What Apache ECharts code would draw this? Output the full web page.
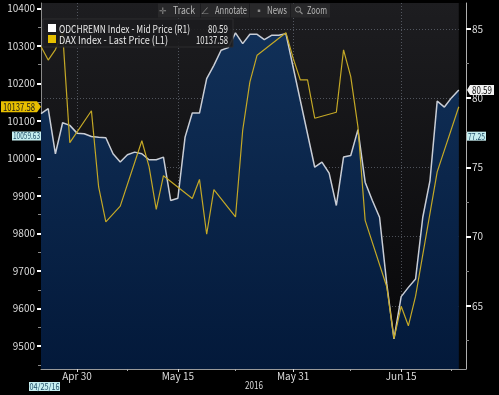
<!DOCTYPE html>
<html><head><meta charset="utf-8">
<script src="https://cdn.jsdelivr.net/npm/echarts@6/dist/echarts.min.js"></script>
<style>html,body{margin:0;padding:0;background:#000;}#c{width:499px;height:395px;}</style>
</head><body><div id="c"></div>
<script>
// ---- data ----
const days = ['Apr 25','Apr 26','Apr 27','Apr 28','Apr 29','Apr 30','May 1','May 2','May 3','May 4','May 5','May 6','May 7','May 8','May 9','May 10','May 11','May 12','May 13','May 14','May 15','May 16','May 17','May 18','May 19','May 20','May 21','May 22','May 23','May 24','May 25','May 26','May 27','May 28','May 29','May 30','May 31','Jun 1','Jun 2','Jun 3','Jun 4','Jun 5','Jun 6','Jun 7','Jun 8','Jun 9','Jun 10','Jun 11','Jun 12','Jun 13','Jun 14','Jun 15','Jun 16','Jun 17','Jun 18','Jun 19','Jun 20','Jun 21','Jun 22','Jun 23'];
const odch = [78.87,79.23,75.98,78.22,78.03,77.47,77.43,77.23,77.18,77.14,75.98,75.38,75.91,76.10,75.98,75.55,75.55,75.74,72.61,72.77,77.18,78.92,78.92,81.40,82.36,83.45,83.64,84.70,83.93,84.60,84.60,84.22,84.53,84.53,84.65,null,null,null,75.01,75.38,74.58,72.25,75.74,75.86,77.72,73.93,72.61,71.40,66.59,62.62,65.67,66.34,66.95,71.40,74.05,79.78,79.35,80.03,80.59,null];
const dax = [10298,10262,10290,10335,10042,null,null,10127,9924,9831,null,9873,null,null,10047,9978,9864,9954,null,null,null,9893,9944,9798,9917,null,null,9844,10075,10204,10275,null,null,null,10335,10267,10209,10209,10107,null,null,10123,10289,10218,10084,9835,null,null,9658,9520,9606,9554,9633,null,null,9964,null,null,10137.58,null];
const tickIdx = [5,19,35,50];
const tickLabels = ['Apr 30','May 15','May 31','Jun 15'];
const minorIdx = [12,27,43,57];
const daxTicks = [9500,9600,9700,9800,9900,10000,10100,10200,10300,10400];
const daxMinor = [9450,9550,9650,9750,9850,9950,10050,10150,10250,10350];
const odTicks = [65,70,75,80,85];
const odMinor = [62.5,67.5,72.5,77.5,82.5];
const daxRange = [9439,10414];
const odRange = [60.45,86.86];
const odLast = 80.59, daxLast = 10137.58;
const crossDax = 10059.63, crossOd = 77.25, crossDate = '04/25/16';
const yearLabel = '2016';
const legendNames = ['ODCHREMN Index - Mid Price (R1)','DAX Index - Last Price (L1)'];
const toolbar = ['Track','Annotate','News','Zoom'];

// ---- chart ----
const FONT = "'Noto Sans CJK SC','Liberation Sans',sans-serif";
const chart = echarts.init(document.getElementById('c'));
const grid = {left:41,right:33,top:3,bottom:26};
const dotted = {color:'rgba(150,160,175,0.45)',type:[1,2],width:1};
const lab = {color:'#dcdcdc',fontSize:10,fontFamily:FONT};
chart.setOption({
  backgroundColor:'#000',
  animation:false,
  grid:Object.assign({show:true,borderWidth:0,backgroundColor:{type:'linear',x:0,y:0,x2:0,y2:1,colorStops:[{offset:0,color:'#1d1d20'},{offset:1,color:'#060608'}]}},grid),
  xAxis:[
    {type:'category',data:days,boundaryGap:false,
     axisLine:{show:true,lineStyle:{color:'#9a9a9a'}},
     axisTick:{show:true,interval:(i)=>tickIdx.includes(i),length:3,lineStyle:{color:'#ddd'}},
     axisLabel:Object.assign({interval:(i)=>tickIdx.includes(i),formatter:(v,i)=>{const k=tickIdx.indexOf(i);return k>=0?tickLabels[k]:'';},margin:2},lab),
     splitLine:{show:true,interval:(i)=>tickIdx.includes(i),lineStyle:dotted}},
    {type:'category',data:days,boundaryGap:false,position:'bottom',
     axisLine:{show:false},
     axisTick:{show:true,interval:(i)=>minorIdx.includes(i),length:2,lineStyle:{color:'#aaa'}},
     axisLabel:{show:false},splitLine:{show:false}}
  ],
  yAxis:[
    {type:'value',min:daxRange[0],max:daxRange[1],position:'left',
     axisLine:{show:true,lineStyle:{color:'#8a8a8a'}},
     axisTick:{show:true,customValues:daxTicks,length:4,lineStyle:{color:'#fff',width:2}},
     axisLabel:Object.assign({customValues:daxTicks,margin:6,formatter:(v)=>String(v)},lab),
     splitLine:{show:false}},
    {type:'value',min:odRange[0],max:odRange[1],position:'right',
     axisLine:{show:true,lineStyle:{color:'#b0b0b0'}},
     axisTick:{show:true,customValues:odTicks,length:5,lineStyle:{color:'#fff',width:2}},
     axisLabel:Object.assign({customValues:odTicks,margin:6,formatter:(v)=>String(v)},lab),
     splitLine:{show:true,lineStyle:dotted}},
    {type:'value',min:daxRange[0],max:daxRange[1],position:'left',
     axisLine:{show:false},axisTick:{show:true,customValues:daxMinor,length:3,lineStyle:{color:'#888'}},
     axisLabel:{show:false},splitLine:{show:false}},
    {type:'value',min:odRange[0],max:odRange[1],position:'right',
     axisLine:{show:false},axisTick:{show:true,customValues:odMinor,length:3,lineStyle:{color:'#888'}},
     axisLabel:{show:false},splitLine:{show:false}}
  ],
  series:[
    {name:legendNames[0],type:'line',xAxisIndex:0,yAxisIndex:1,data:odch,symbol:'none',connectNulls:true,z:2,
     lineStyle:{color:'#c9cdd5',width:1.5},
     areaStyle:{origin:'start',opacity:1,color:{type:'linear',x:0,y:0,x2:0,y2:1,colorStops:[{offset:0,color:'#113058'},{offset:1,color:'#03193a'}]}},
     markArea:{silent:true,itemStyle:{color:'#030303'},data:[[{xAxis:days[58]},{xAxis:days[59]}]]}},
    {name:legendNames[1],type:'line',xAxisIndex:0,yAxisIndex:0,data:dax,symbol:'none',connectNulls:true,z:3,
     lineStyle:{color:'#c4a826',width:1.2}}
  ]
});

const yD = chart.convertToPixel({yAxisIndex:0}, daxLast);
const yO = chart.convertToPixel({yAxisIndex:1}, odLast);
const yCD = chart.convertToPixel({yAxisIndex:0}, crossDax);
const yCO = chart.convertToPixel({yAxisIndex:1}, crossOd);
const W = 499, H = 395;
const xL = grid.left, xR = W - grid.right;
const mctx = document.createElement('canvas').getContext('2d');
// text squeezed horizontally to the width it has in the reference
function txt(x,y,s,fill,size,align,w){
  const font = size+'px '+FONT;
  mctx.font = font;
  const m = mctx.measureText(s).width;
  const sx = w ? Math.min(1.15, w/m) : 1;
  return {type:'text',x:x,y:y,scaleX:sx,silent:true,z:20,style:{text:s,fill:fill,font:font,textAlign:align||'left',textVerticalAlign:'middle'}};
}
const g = [];
// legend box
g.push({type:'rect',shape:{x:43,y:19,width:190,height:28},style:{fill:'rgba(28,28,30,0.9)',stroke:'#2c2c2e'},z:15,silent:true});
g.push({type:'rect',shape:{x:48,y:24,width:8,height:8},style:{fill:'#ffffff'},z:16});
g.push({type:'rect',shape:{x:48,y:35,width:8,height:8},style:{fill:'#e6c000'},z:16});
g.push(txt(59,28.5,legendNames[0],'#e8e8e8',11,'left',131));
g.push(txt(59,39.5,legendNames[1],'#e8e8e8',11,'left',109));
g.push(txt(228,28.5,odLast.toFixed(2),'#e8e8e8',11,'right',20));
g.push(txt(228,39.5,daxLast.toFixed(2),'#e8e8e8',11,'right',32));
// toolbar
const tb = [[158,42,173,22,'\u271B',163],[201,48,215,32,'\u2220',205],[250,40,267,20,'\u25AA',259],[291,39,307,20,'',0]];
tb.forEach((b,i)=>{
  g.push({type:'rect',shape:{x:b[0],y:3.5,width:b[1],height:14},style:{fill:'#28282a'},z:15});
  g.push(txt(b[2],10.5,toolbar[i],'#b8b8b8',10,'left',b[3]));
  if (b[4]) g.push(txt(b[5],10.5,b[4],'#8a8a8a',9,'center'));
});
g.push({type:'circle',shape:{cx:298,cy:9.5,r:2.6},style:{fill:'none',stroke:'#8a8a8a',lineWidth:1},z:16});
g.push({type:'line',shape:{x1:300,y1:11.5,x2:302.5,y2:14},style:{stroke:'#8a8a8a',lineWidth:1.2},z:16});
// yellow last-price label on left axis
g.push({type:'polygon',shape:{points:[[1,yD-5.5],[37,yD-5.5],[41,yD],[37,yD+5.5],[1,yD+5.5]]},style:{fill:'#e8bf00'},z:18});
g.push(txt(19,yD,daxLast.toFixed(2),'#1a1a1a',10,'center',32));
// cyan crosshair label left
g.push({type:'rect',shape:{x:12,y:yCD-4.5,width:29,height:9},style:{fill:'#c6eef0'},z:18});
g.push(txt(26.5,yCD,crossDax.toFixed(2),'#1f4d66',9,'center',27));
// white last label right
g.push({type:'polygon',shape:{points:[[467,yO],[470,yO-5],[494,yO-5],[494,yO+5],[470,yO+5]]},style:{fill:'#f2f2f2'},z:18});
g.push(txt(482,yO,odLast.toFixed(2),'#111',10,'center',20));
// cyan crosshair label right
g.push({type:'rect',shape:{x:467,y:yCO-4.5,width:19,height:9},style:{fill:'#c6eef0'},z:18});
g.push(txt(476.5,yCO,crossOd.toFixed(2),'#1f4d66',9,'center',17));
// year + date
g.push(txt((xL+xR)/2+0.5,385.5,yearLabel,'#dcdcdc',10,'center',18));
g.push({type:'rect',shape:{x:29,y:382,width:31,height:9},style:{fill:'#c6eef0'},z:18});
g.push(txt(44.5,386.5,crossDate,'#1f4d66',9,'center',30));
chart.setOption({graphic:g});
</script></body></html>
